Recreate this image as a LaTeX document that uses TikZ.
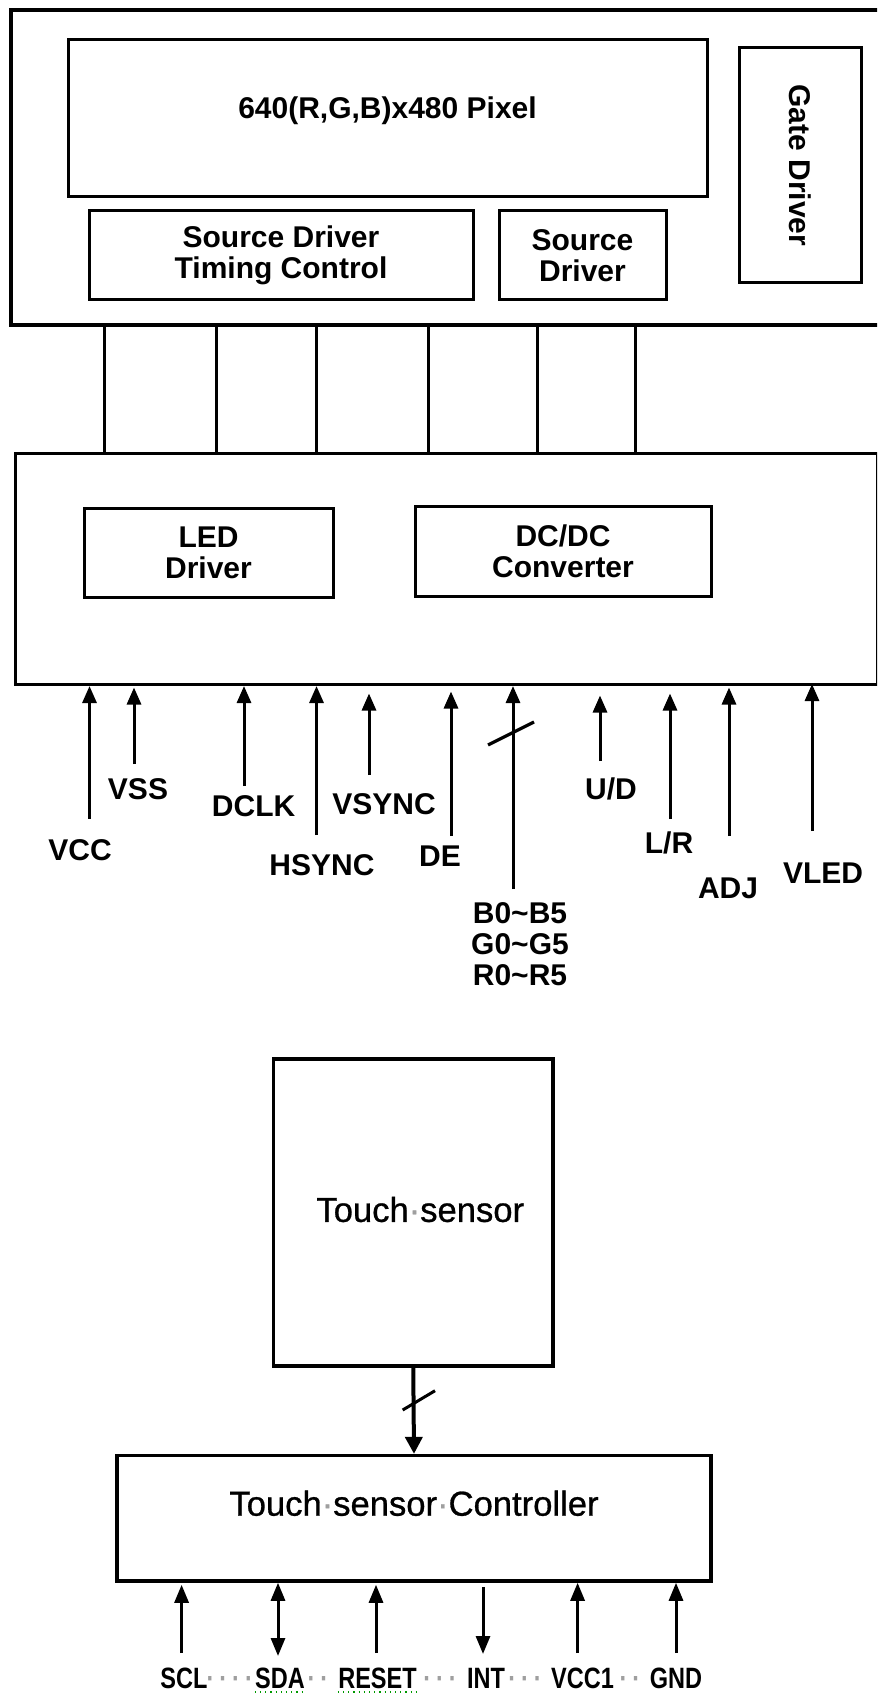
\documentclass[tikz,border=0pt]{standalone}
\usepackage{fontspec}
\setmainfont{Liberation Sans}
\newfontfamily\condsans[FakeStretch=0.8]{Liberation Sans}
\newfontfamily\touchsans[FakeBold=0.8]{Liberation Sans}
\usepackage{xcolor}
\usepackage{tikz}
\usetikzlibrary{arrows.meta, positioning, calc}

\newcommand{\spdot}{\textcolor{gray!75}{·}}

\begin{document}
\begin{tikzpicture}[x=0.5pt, y=-0.5pt,
    frame/.style={draw, line width=2pt, inner sep=0pt},
    blk/.style={draw, line width=1.5pt, inner sep=0pt, align=center, font=\bfseries\fontsize{15}{15.5}\selectfont},
    wire/.style={line width=1.5pt},
    sigarr/.style={line width=1.5pt, -{Triangle[length=8.5pt, width=7pt]}},
    sig/.style={inner sep=0pt, align=center, font=\bfseries\fontsize{15}{15.5}\selectfont},
    tbox/.style={draw, line width=1.75pt, inner sep=0pt},
    ttxt/.style={inner sep=0pt, font=\touchsans\fontsize{17.3}{20}\selectfont},
    tarr/.style={line width=1.5pt, -{Triangle[length=9pt, width=7pt]}},
    tlab/.style={inner sep=0pt, anchor=base, font=\condsans\bfseries\fontsize{14.7}{15}\selectfont},
    spc/.style={tlab, text=gray!75}]
    \useasboundingbox (0,0) rectangle (877,1695);
    \clip (0,0) rectangle (877,1695);
    \fill[white] (0,0) rectangle (877,1695);

    % 显示面板
    \node[frame, anchor=north west, minimum width=445pt, minimum height=157.5pt] (panel) at (9,8) {};
    \node[blk, minimum width=319.5pt, minimum height=78.5pt,
          label={[sig, yshift=4pt]center:{640(R,G,B)x480 Pixel}}] (pixel) at (387.5,118.5) {};
    \node[blk, minimum width=192pt, minimum height=44.5pt] (srctc) at (281,255.5) {Source Driver\\Timing Control};
    \node[blk, minimum width=83.5pt, minimum height=44.5pt] (src) at (582.5,255.5) {Source\\Driver};
    \node[blk, rotate=-90, minimum width=117.5pt, minimum height=61pt] (gate) at (800,165.5) {Gate Driver};

    % 驱动板
    \node[frame, line width=1.5pt, anchor=north west, minimum width=431.25pt, minimum height=115.25pt] (board) at (13.5,452.5) {};
    \node[blk, minimum width=124.5pt, minimum height=44.5pt] (led) at (208.5,552.5) {LED\\Driver};
    \node[blk, minimum width=148pt, minimum height=45pt] (dcdc) at (563,551) {DC/DC\\Converter};

    % 连接线
    \foreach \x [count=\i] in {104.6, 216, 316.5, 428, 537, 635} {
        \coordinate (w\i) at (\x,0);
        \draw[wire] (panel.south -| w\i) -- (board.north -| w\i);
    }

    % 输入信号
    \foreach \id/\x/\y/\s/\lx/\ly/\txt in {
        vcc/89.5/818.6/0/80/850/VCC, vss/134/764/0.75/138/789/VSS,
        dclk/244/786/0/253.6/806/DCLK, hsync/316.5/835/0/322/865/HSYNC,
        vsync/369/775/3.75/384/804/VSYNC, de/451/836/2.75/440/856/DE,
        ud/600/761/4.75/611/789/{U/D}, lr/670/819/3.75/669/843/{L/R},
        adj/729/836/0.75/728/888/ADJ, vled/812/831/-1/823/873/VLED} {
        \coordinate (p\id) at (\x,\y);
        \draw[sigarr, shorten >=\s pt] (p\id) -- (p\id |- board.south);
        \node[sig] (l\id) at (\lx,\ly) {\txt};
    }

    % 数据总线
    \coordinate (pdata) at (513,889);
    \draw[sigarr] (pdata) -- (pdata |- board.south);
    \draw[wire, line width=1.6pt] (488,745) -- (534,722);
    \node[sig] (ldata) at (520,944) {B0\textasciitilde B5\\G0\textasciitilde G5\\R0\textasciitilde R5};

    % 触摸屏
    \node[tbox, minimum width=139.75pt, minimum height=153.5pt,
          label={[ttxt, xshift=3.5pt, yshift=1.4pt]center:Touch\spdot sensor}] (touch) at (413.25,1212.3) {};
    \node[tbox, minimum width=297pt, minimum height=62.7pt,
          label={[ttxt, yshift=7.5pt]center:Touch\spdot sensor\spdot Controller}] (tctrl) at (414,1518.3) {};
    \draw[line width=2pt, -{Triangle[length=8.5pt, width=8.5pt]}] (touch.south) -- (tctrl.north);
    \draw[wire] (402.7,1410) -- (435,1390.7);

    % 触摸接口
    \foreach \id/\x/\s in {scl/181.6/1, reset/376/1, vcci/577.6/0, gnd/676/0} {
        \coordinate (p\id) at (\x,1653);
        \draw[tarr, shorten >=\s pt] (p\id) -- (p\id |- tctrl.south);
    }
    \coordinate (psda) at (278,1656);
    \draw[tarr, {Triangle[length=9pt, width=7pt]}-{Triangle[length=9pt, width=7pt]}] (psda) -- (psda |- tctrl.south);
    \coordinate (pint) at (483,1654);
    \draw[tarr, shorten <=2pt] (pint |- tctrl.south) -- (pint);

    \node[tlab] (lscl) at (184,1688) {SCL};
    \node[tlab] (lsda) at (280,1688) {SDA};
    \node[tlab] (lreset) at (377.5,1688) {RESET};
    \node[tlab] (lint) at (486,1688) {INT};
    \node[tlab] (lvcc1) at (582.5,1688) {VCC1};
    \node[tlab] (lgnd) at (676,1688) {GND};
    \node[spc] (s1) at (229.7,1688) {·\hspace{2.5pt}·\hspace{2.5pt}·\hspace{2.5pt}·};
    \node[spc] (s2) at (318,1688) {·\hspace{2.5pt}·};
    \node[spc] (s3) at (440,1688) {·\hspace{2.5pt}·\hspace{2.5pt}·};
    \node[spc] (s4) at (525,1688) {·\hspace{2.5pt}·\hspace{2.5pt}·};
    \node[spc] (s5) at (630,1688) {·\hspace{2.5pt}·};
    \draw[green!60!black, dotted, line width=0.6pt] ([yshift=-2pt]lsda.base west) -- ([yshift=-2pt]lsda.base east);
    \draw[green!60!black, dotted, line width=0.6pt] ([yshift=-2pt]lreset.base west) -- ([yshift=-2pt]lreset.base east);
\end{tikzpicture}
\end{document}
